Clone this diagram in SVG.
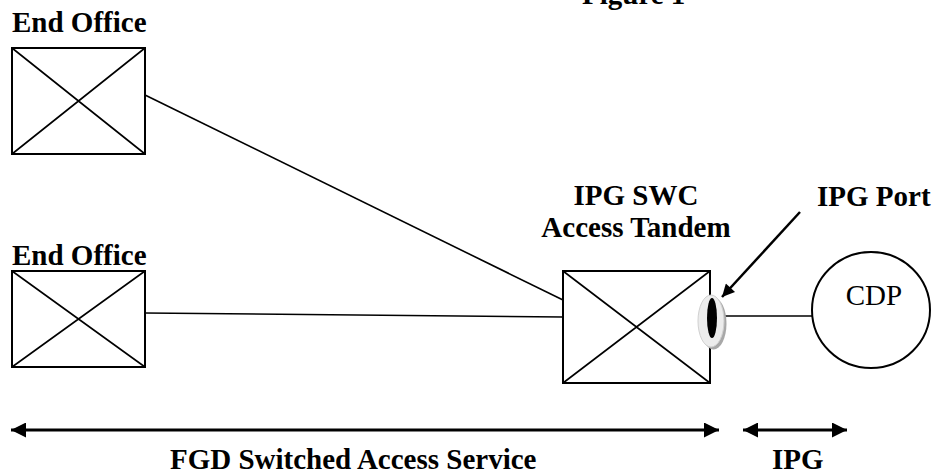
<svg xmlns="http://www.w3.org/2000/svg" width="932" height="476" viewBox="0 0 932 476">
<style>
.lbl{font-family:"Liberation Serif","Times New Roman",serif;font-weight:bold;font-size:29px;fill:#000}
.reg{font-family:"Liberation Serif","Times New Roman",serif;font-size:29px;fill:#000}
.box{fill:#fff;stroke:#000;stroke-width:2}
.x{stroke:#000;stroke-width:1.6;fill:none}
.ln{stroke:#000;stroke-width:1.6;fill:none}
.dim{stroke:#000;stroke-width:3;fill:none}
</style>
<defs>
<marker id="ah" viewBox="0 0 10 10" refX="10" refY="5" markerWidth="6" markerHeight="5" markerUnits="strokeWidth" orient="auto-start-reverse">
<path d="M0,0 L10,5 L0,10 z" fill="#000"/>
</marker>
<marker id="ah2" viewBox="0 0 10 10" refX="10" refY="5" markerWidth="7" markerHeight="5" markerUnits="strokeWidth" orient="auto">
<path d="M0,0 L10,5 L0,10 z" fill="#000"/>
</marker>
</defs>
<rect width="932" height="476" fill="#fff"/>
<text class="lbl" x="582" y="4">Figure 1</text>
<g id="connectors">
<line class="ln" x1="145" y1="95" x2="563" y2="300"/>
<line class="ln" x1="145" y1="313" x2="563" y2="317"/>
<line class="ln" x1="724" y1="316" x2="812" y2="316"/>
<line stroke="#000" stroke-width="2.5" x1="800" y1="212" x2="722" y2="297" marker-end="url(#ah2)"/>
<line class="dim" x1="11" y1="430" x2="719" y2="430" marker-start="url(#ah)" marker-end="url(#ah)"/>
<line class="dim" x1="743" y1="430" x2="847" y2="430" marker-start="url(#ah)" marker-end="url(#ah)"/>
</g>
<g id="eo1">
<text class="lbl" x="12" y="32">End Office</text>
<rect class="box" x="12" y="48" width="133" height="106"/>
<path class="x" d="M12,48 L145,154 M145,48 L12,154"/>
</g>
<g id="eo2">
<text class="lbl" x="12" y="265">End Office</text>
<rect class="box" x="12" y="271" width="133" height="96"/>
<path class="x" d="M12,271 L145,367 M145,271 L12,367"/>
</g>
<g id="tandem">
<text class="lbl" x="636" y="205" text-anchor="middle">IPG SWC</text>
<text class="lbl" x="636" y="237" text-anchor="middle">Access Tandem</text>
<rect class="box" x="563" y="271" width="147" height="112"/>
<path class="x" d="M563,271 L710,383 M710,271 L563,383"/>
</g>
<g id="port">
<text class="lbl" x="817" y="206">IPG Port</text>
<ellipse cx="713.5" cy="323.5" rx="13" ry="26" fill="#a8a8a8"/>
<ellipse cx="711" cy="321" rx="13" ry="26" fill="#ececec" stroke="#d0d0d0" stroke-width="1"/>
<ellipse cx="712" cy="318" rx="5" ry="20" fill="#000"/>
</g>
<g id="cdp">
<ellipse cx="871" cy="310" rx="59" ry="58" fill="#fff" stroke="#000" stroke-width="2"/>
<text class="reg" x="874" y="305" text-anchor="middle">CDP</text>
</g>
<g id="labels">
<text class="lbl" x="170" y="469">FGD Switched Access Service</text>
<text class="lbl" x="772" y="469">IPG</text>
</g>
</svg>
